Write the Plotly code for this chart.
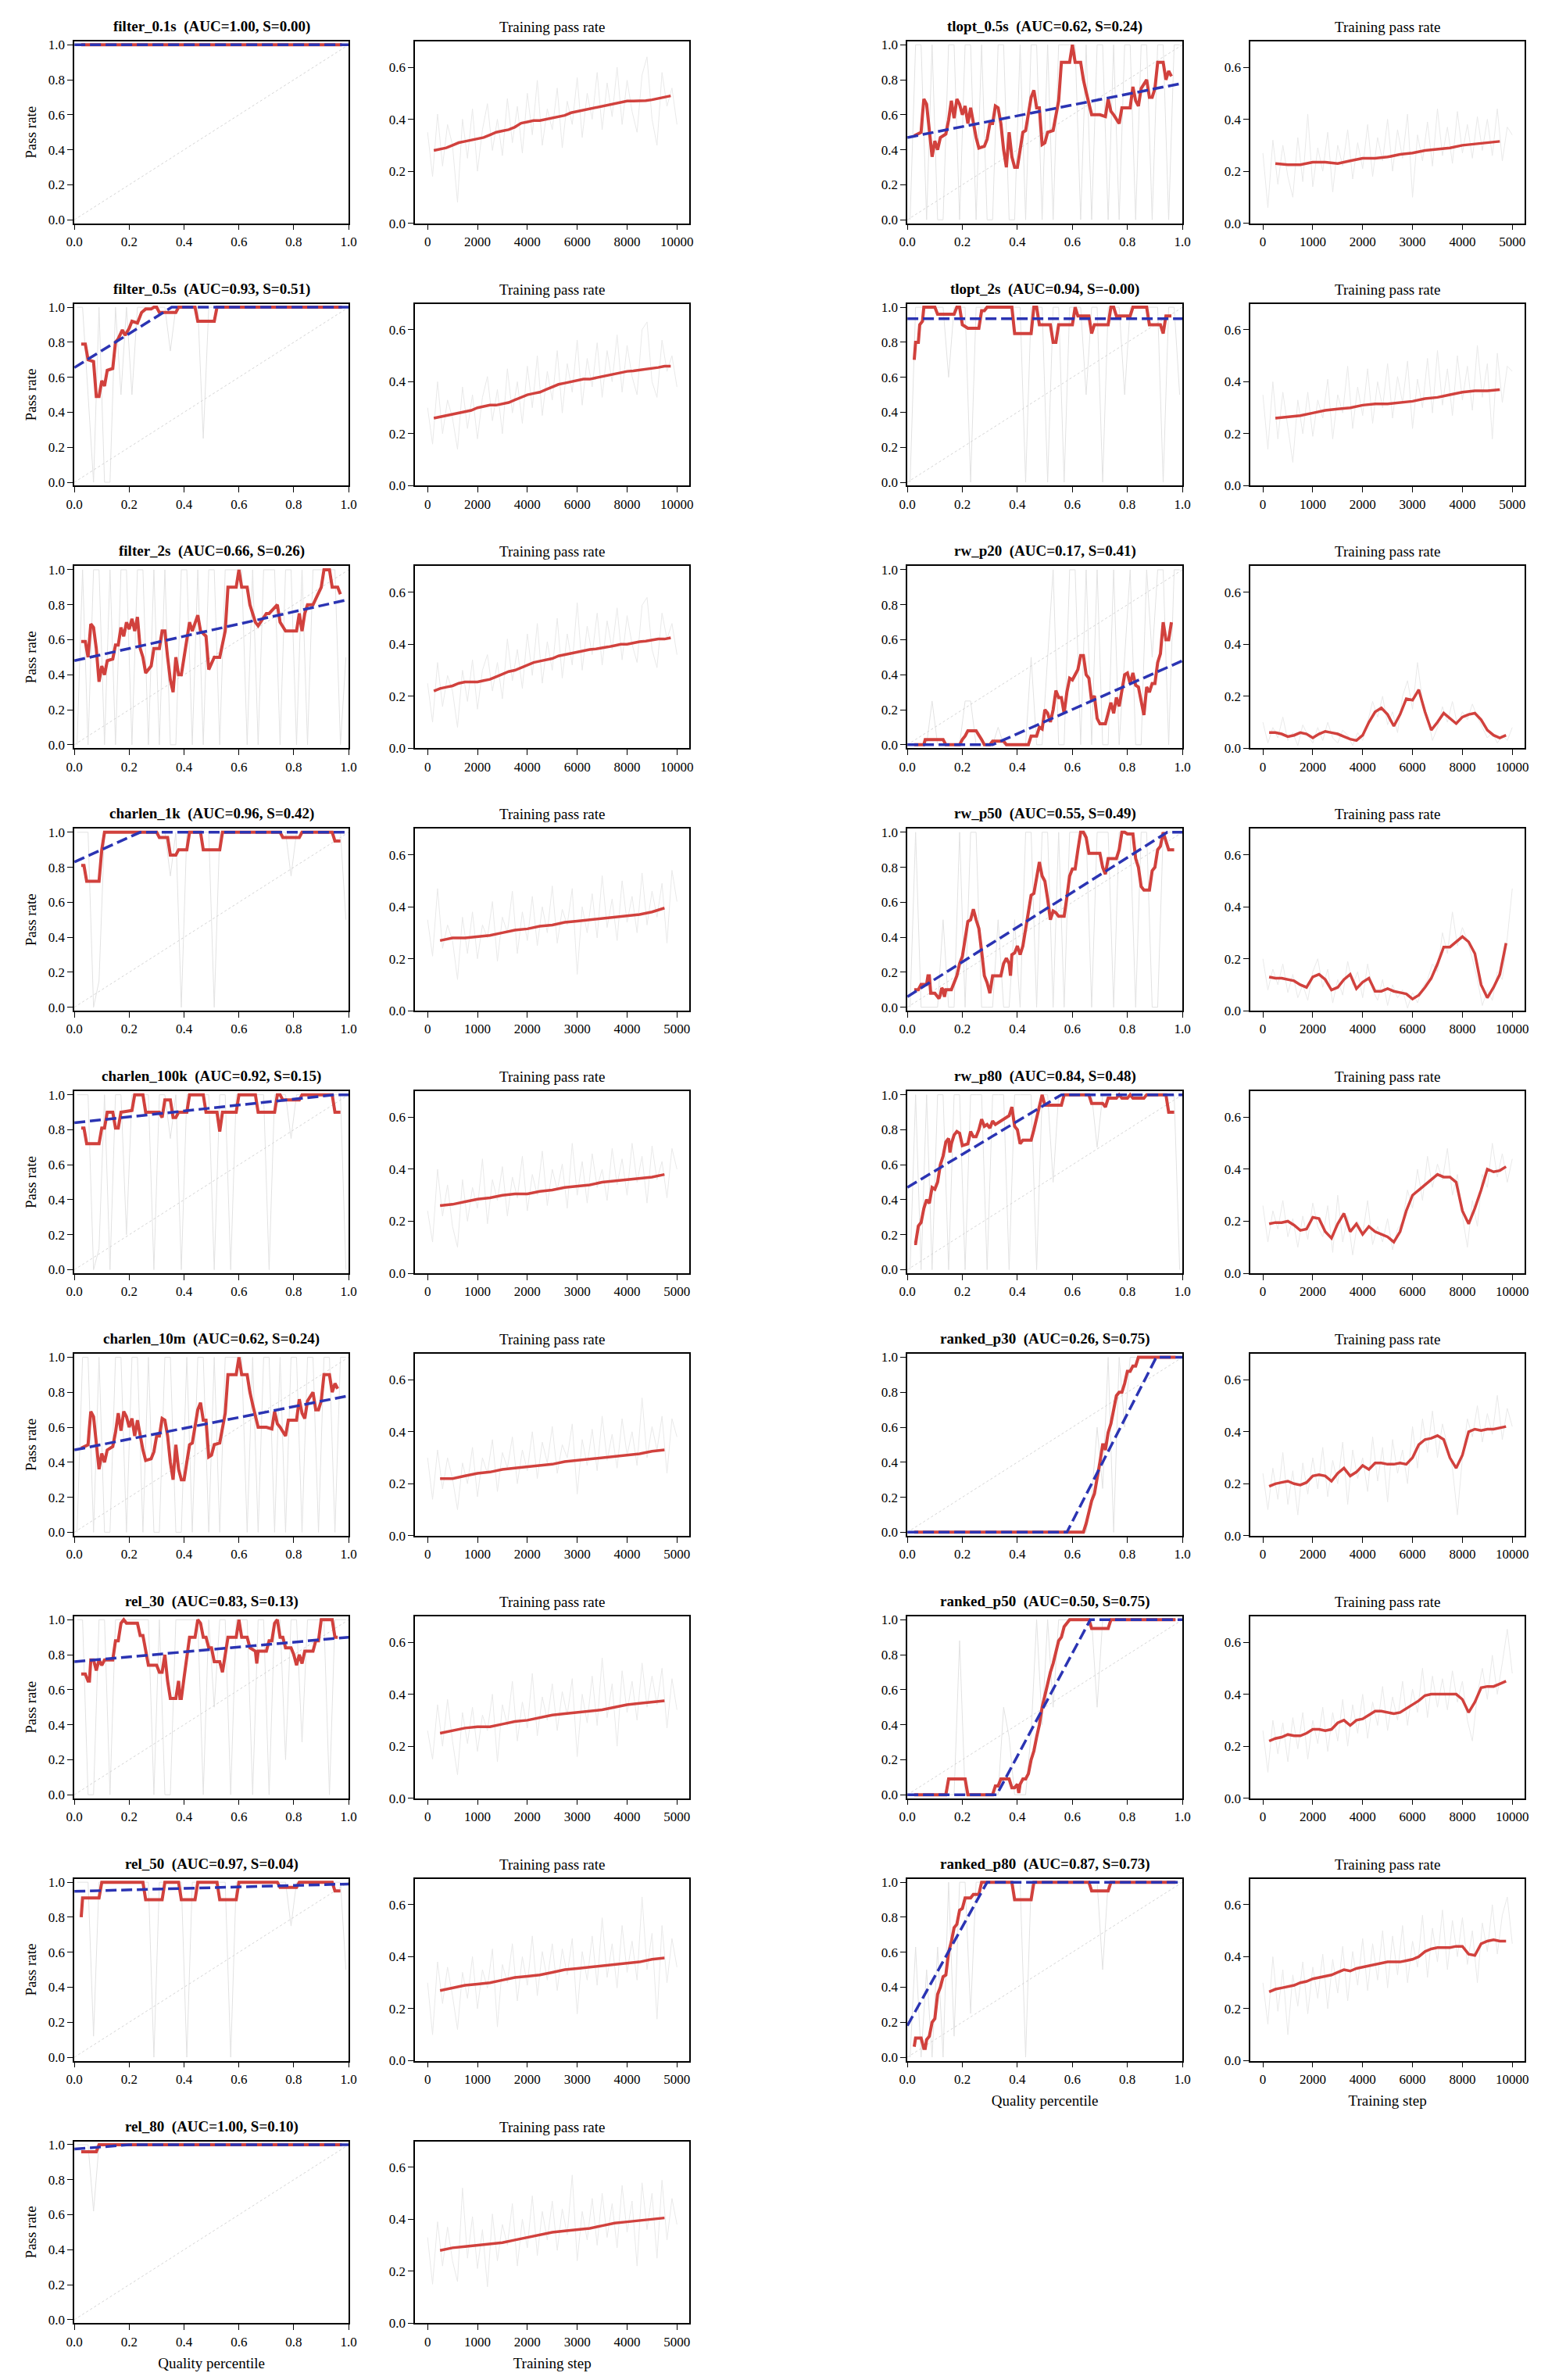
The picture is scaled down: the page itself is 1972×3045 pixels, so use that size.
import plotly.graph_objects as go

W, H = 1972, 3045
FONT = "Liberation Serif"
RED = "#d1413d"
BLUE = "#2b34b3"
RAW = "#e2e2e2"
DIAG = "#d4d4d4"

# shared x positions
Q_GRID = [round(0.01 + 0.02 * i, 2) for i in range(50)]   # quality percentile of raw samples
STEPS_10K = list(range(250, 10000, 250))                   # smoothed training curve, 10k runs
STEPS_5K = list(range(250, 5000, 250))                     # smoothed training curve, 5k runs
RAW_10K = list(range(0, 10001, 200))
RAW_5K = list(range(0, 5001, 100))
DIAG_XY = [0.0, 1.0]

# ---------------- filter_0.1s ----------------
filter_01s_q = [(0.025, 1.0), (0.975, 1.0)]
filter_01s_fit = [(0.0, 1.0), (1.0, 1.0)]
filter_01s_raw = [1, 1, 1, 1, 1, 1, 1, 1, 1, 1,
                  1, 1, 1, 1, 1, 1, 1, 1, 1, 1,
                  1, 1, 1, 1, 1, 1, 1, 1, 1, 1,
                  1, 1, 1, 1, 1, 1, 1, 1, 1, 1,
                  1, 1, 1, 1, 1, 1, 1, 1, 1, 1]
filter_01s_tr = [.28, .285, .29, .30, .31, .315, .32, .325, .33, .34,
                 .35, .355, .36, .37, .385, .39, .395, .395, .40, .405,
                 .41, .415, .425, .43, .435, .44, .445, .45, .455, .46,
                 .465, .47, .47, .47, .472, .475, .48, .485, .49]
filter_01s_tr_raw = [.35, .18, .42, .22, .38, .30, .08, .40, .25, .44,
                     .20, .36, .46, .28, .40, .26, .48, .31, .45, .27,
                     .50, .34, .55, .30, .44, .36, .52, .29, .47, .38,
                     .56, .33, .50, .40, .58, .36, .54, .41, .60, .38,
                     .55, .43, .35, .57, .64, .40, .30, .58, .45, .52, .38]

# ---------------- filter_0.5s ----------------
filter_05s_q = [(0.025, .79), (0.04, .79), (0.05, .70), (0.07, .69), (0.08, .49), (0.09, .49),
                (0.10, .58), (0.11, .55), (0.12, .64), (0.14, .65), (0.15, .80), (0.16, .82),
                (0.175, .87), (0.185, .84), (0.20, .88), (0.21, .92), (0.23, .91), (0.245, .97),
                (0.26, .99), (0.28, .99), (0.29, 1.0), (0.30, 1.0), (0.31, .97), (0.37, .97),
                (0.38, 1.0), (0.44, 1.0), (0.45, .92), (0.51, .92), (0.52, 1.0), (0.975, 1.0)]
filter_05s_fit = [(0.0, .655), (0.355, 1.0), (1.0, 1.0)]
filter_05s_raw = [1, 1, .5, 0, 1, 0, 0, 1, .5, 1,
                  .5, 1, 1, 1, 1, 1, 1, .75, 1, 1,
                  1, 1, 1, .25, 1, 1, 1, 1, 1, 1,
                  1, 1, 1, 1, 1, 1, 1, 1, 1, 1,
                  1, 1, 1, 1, 1, 1, 1, 1, 1, 1]
filter_05s_tr = [.26, .265, .27, .275, .28, .285, .29, .30, .305, .31,
                 .31, .315, .32, .33, .34, .35, .355, .36, .37, .38,
                 .39, .395, .40, .405, .41, .41, .415, .42, .425, .43,
                 .435, .44, .442, .445, .447, .45, .455, .46, .46]
filter_05s_tr_raw = [.30, .16, .40, .20, .33, .26, .14, .38, .22, .35,
                     .18, .34, .42, .25, .37, .20, .45, .28, .40, .24,
                     .46, .30, .50, .27, .44, .33, .52, .28, .47, .36,
                     .56, .31, .49, .38, .55, .34, .52, .40, .58, .36,
                     .54, .42, .35, .60, .63, .40, .34, .56, .44, .50, .38]

# ---------------- filter_2s ----------------
filter_2s_q = [(0.025, .59), (0.04, .59), (0.05, .50), (0.06, .69), (0.07, .67), (0.08, .55),
               (0.09, .36), (0.10, .45), (0.11, .40), (0.12, .48), (0.14, .49), (0.15, .57),
               (0.16, .57), (0.17, .67), (0.18, .62), (0.19, .70), (0.20, .66), (0.21, .72),
               (0.22, .65), (0.23, .73), (0.24, .55), (0.25, .50), (0.26, .41), (0.27, .43),
               (0.28, .45), (0.29, .55), (0.31, .55), (0.32, .65), (0.33, .65), (0.34, .50),
               (0.35, .37), (0.36, .30), (0.37, .50), (0.38, .40), (0.39, .40), (0.40, .50),
               (0.41, .60), (0.42, .70), (0.43, .65), (0.45, .74), (0.46, .65), (0.48, .62),
               (0.49, .43), (0.51, .50), (0.53, .50), (0.55, .65), (0.56, .90), (0.59, .90),
               (0.60, 1.0), (0.61, .90), (0.63, .90), (0.64, .80), (0.65, .75), (0.66, .70),
               (0.67, .68), (0.70, .75), (0.71, .75), (0.74, .80), (0.75, .70), (0.77, .65),
               (0.81, .65), (0.82, .75), (0.83, .65), (0.84, .75), (0.85, .80), (0.87, .80),
               (0.90, .90), (0.91, 1.0), (0.93, 1.0), (0.94, .90), (0.96, .90), (0.97, .86)]
filter_2s_fit = [(0.0, .48), (1.0, .83)]
filter_2s_raw = [0, 1, 0, 1, 1, 0, 1, 0, 1, 1,
                 0, 1, 1, 0, 1, 0, 1, 0, 0, 1,
                 1, 0, 1, 0, 1, 1, 0, 1, 1, 1,
                 1, 0, 1, 0, 1, 1, 1, 0, 1, 1,
                 0, 1, 0, 1, 1, 1, 1, 1, 0, .5]
filter_2s_tr = [.22, .23, .235, .24, .25, .255, .255, .255, .26, .265,
                .275, .285, .295, .30, .31, .32, .33, .335, .34, .345,
                .355, .36, .365, .37, .375, .38, .382, .385, .39, .395,
                .40, .40, .405, .41, .412, .415, .42, .42, .425]
filter_2s_tr_raw = [.25, .10, .33, .16, .28, .22, .08, .30, .18, .34,
                    .15, .30, .36, .22, .33, .19, .42, .26, .38, .23,
                    .44, .28, .48, .25, .41, .30, .50, .27, .44, .32,
                    .56, .30, .47, .36, .52, .32, .49, .38, .54, .34,
                    .51, .40, .33, .55, .58, .38, .31, .52, .42, .48, .36]

# ---------------- charlen_1k ----------------
charlen_1k_q = [(0.025, .81), (0.035, .81), (0.045, .72), (0.09, .72), (0.10, .90), (0.11, 1.0),
                (0.30, 1.0), (0.31, .97), (0.34, .97), (0.35, .87), (0.37, .87), (0.38, .90),
                (0.41, .90), (0.42, 1.0), (0.46, 1.0), (0.47, .90), (0.53, .90), (0.54, 1.0),
                (0.75, 1.0), (0.76, .97), (0.82, .97), (0.83, 1.0), (0.94, 1.0), (0.95, .95),
                (0.97, .95)]
charlen_1k_fit = [(0.0, .83), (0.24, 1.0), (1.0, 1.0)]
charlen_1k_raw = [1, 1, 1, 0, .15, 1, 1, 1, 1, 1,
                  1, 1, 1, 1, 1, 1, 1, .75, 1, 0,
                  1, 1, 1, 1, 1, 0, 1, 1, 1, 1,
                  1, 1, 1, 1, 1, 1, 1, 1, 1, .75,
                  1, 1, 1, 1, 1, 1, 1, 1, 1, .5]
charlen_1k_tr = [.27, .28, .28, .285, .29, .30, .31, .315, .325, .33,
                 .34, .345, .35, .355, .36, .365, .37, .38, .395]
charlen_1k_tr_raw = [.35, .21, .47, .24, .33, .27, .12, .36, .22, .38,
                     .20, .33, .28, .42, .19, .36, .30, .46, .22, .38,
                     .27, .44, .25, .40, .30, .48, .26, .39, .33, .47,
                     .14, .40, .30, .45, .28, .52, .32, .43, .27, .50,
                     .34, .44, .30, .53, .33, .46, .36, .49, .26, .54, .42]

# ---------------- charlen_100k ----------------
charlen_100k_q = [(0.025, .81), (0.035, .81), (0.045, .72), (0.09, .72), (0.10, .81), (0.11, .81),
                  (0.12, .90), (0.14, .90), (0.15, .81), (0.16, .81), (0.17, .90), (0.20, .91),
                  (0.21, .91), (0.22, 1.0), (0.25, 1.0), (0.26, .90), (0.31, .90), (0.32, .87),
                  (0.33, .97), (0.35, .97), (0.36, .87), (0.37, .87), (0.38, .90), (0.41, .90),
                  (0.42, 1.0), (0.47, 1.0), (0.48, .90), (0.52, .90), (0.53, .79), (0.54, .90),
                  (0.59, .90), (0.60, 1.0), (0.66, 1.0), (0.67, .90), (0.73, .90), (0.74, 1.0),
                  (0.75, 1.0), (0.76, .97), (0.82, .97), (0.83, 1.0), (0.94, 1.0), (0.95, .90),
                  (0.97, .90)]
charlen_100k_fit = [(0.0, .84), (0.95, 1.0), (1.0, 1.0)]
charlen_100k_raw = [1, 1, 1, 0, .12, 1, 0, 1, 1, .2,
                    1, 1, 1, 1, 0, 1, 1, .75, 1, 0,
                    1, 1, 1, 1, 1, 0, 1, 1, 0, 1,
                    1, 1, 1, 1, 1, 0, 1, 1, 1, .75,
                    1, 1, 1, 1, 1, 1, 1, 1, 1, 0]
charlen_100k_tr = [.26, .265, .275, .285, .29, .30, .305, .305, .315, .32,
                   .33, .335, .34, .35, .355, .36, .365, .37, .38]
charlen_100k_tr_raw = [.24, .12, .40, .22, .34, .18, .10, .36, .20, .33,
                       .25, .44, .19, .36, .28, .41, .22, .37, .29, .45,
                       .24, .38, .30, .47, .26, .40, .32, .42, .25, .50,
                       .30, .43, .27, .46, .33, .40, .28, .48, .34, .44,
                       .30, .50, .35, .45, .27, .49, .36, .43, .29, .48, .40]

# ---------------- tlopt_0.5s (charlen_10m shows the same curve) ----------------
tlopt_05s_q = [(0.025, .48), (0.04, .49), (0.05, .50), (0.055, .60), (0.06, .69), (0.07, .66),
               (0.08, .50), (0.09, .36), (0.10, .45), (0.11, .40), (0.12, .47), (0.14, .49),
               (0.15, .57), (0.16, .68), (0.17, .58), (0.18, .69), (0.19, .66), (0.20, .60),
               (0.21, .65), (0.22, .55), (0.23, .64), (0.24, .55), (0.25, .47), (0.26, .41),
               (0.28, .42), (0.29, .46), (0.30, .55), (0.31, .55), (0.32, .65), (0.33, .64),
               (0.34, .55), (0.35, .40), (0.36, .30), (0.37, .50), (0.38, .36), (0.39, .30),
               (0.40, .30), (0.41, .40), (0.42, .50), (0.43, .51), (0.44, .60), (0.45, .70),
               (0.46, .74), (0.47, .64), (0.48, .64), (0.49, .43), (0.50, .44), (0.51, .50),
               (0.53, .51), (0.55, .68), (0.56, .90), (0.59, .90), (0.60, 1.0), (0.61, .90),
               (0.63, .90), (0.64, .80), (0.65, .73), (0.66, .66), (0.67, .60), (0.70, .60),
               (0.72, .59), (0.73, .69), (0.74, .62), (0.75, .60), (0.77, .55), (0.78, .64),
               (0.81, .64), (0.82, .76), (0.83, .68), (0.84, .65), (0.85, .75), (0.87, .80),
               (0.88, .70), (0.89, .70), (0.90, .75), (0.91, .90), (0.93, .90), (0.94, .80),
               (0.95, .85), (0.96, .82)]
tlopt_05s_fit = [(0.0, .47), (1.0, .78)]
tlopt_05s_raw = [0, 1, 1, 0, 1, 0, 0, 1, 1, 0,
                 1, 1, 0, 1, 0, 0, 1, 1, 0, 0,
                 1, 0, 1, 1, 0, 1, 0, 1, 1, 1,
                 1, 0, 1, 0, 1, 1, 0, 1, 0, 1,
                 1, 0, 1, 1, 0, 1, 1, 0, 1, 1]
tlopt_05s_tr = [.23, .225, .225, .235, .235, .23, .24, .25, .25, .255,
                .265, .27, .28, .285, .29, .30, .305, .31, .315]
tlopt_05s_tr_raw = [.27, .06, .32, .15, .30, .18, .10, .33, .16, .42,
                    .14, .29, .20, .35, .12, .30, .22, .36, .17, .31,
                    .21, .38, .18, .33, .24, .40, .20, .36, .25, .42,
                    .10, .34, .24, .39, .22, .44, .26, .37, .23, .43,
                    .27, .38, .25, .41, .28, .40, .26, .44, .24, .37, .34]

# ---------------- charlen_10m ----------------
charlen_10m_q = list(tlopt_05s_q)
charlen_10m_fit = [(0.0, .47), (1.0, .78)]
charlen_10m_raw = list(tlopt_05s_raw)
charlen_10m_tr = [.22, .22, .23, .24, .245, .255, .26, .265, .27, .275,
                  .285, .29, .295, .30, .305, .31, .315, .325, .33]
charlen_10m_tr_raw = [.30, .14, .33, .18, .30, .22, .10, .28, .20, .34,
                      .15, .30, .24, .37, .17, .32, .26, .38, .20, .33,
                      .25, .40, .22, .36, .28, .42, .24, .35, .30, .43,
                      .16, .37, .27, .41, .25, .46, .29, .39, .26, .45,
                      .31, .40, .27, .53, .30, .42, .33, .46, .24, .45, .38]

# ---------------- rel_30 ----------------
rel_30_q = [(0.025, .69), (0.04, .69), (0.05, .65), (0.055, .65), (0.06, .77), (0.07, .77),
            (0.08, .71), (0.09, .77), (0.10, .74), (0.11, .77), (0.14, .77), (0.15, .88),
            (0.16, .88), (0.17, .98), (0.18, 1.0), (0.19, .98), (0.23, .98), (0.24, .91),
            (0.25, .91), (0.26, .82), (0.27, .74), (0.30, .74), (0.31, .70), (0.32, .70),
            (0.33, .80), (0.34, .65), (0.35, .55), (0.37, .55), (0.38, .65), (0.385, .55),
            (0.39, .55), (0.40, .67), (0.41, .80), (0.42, .90), (0.44, .90), (0.45, 1.0),
            (0.46, .98), (0.47, .90), (0.48, .90), (0.49, .84), (0.50, .84), (0.51, .76),
            (0.53, .76), (0.54, .70), (0.55, .80), (0.56, .90), (0.59, .90), (0.60, 1.0),
            (0.61, .90), (0.63, .90), (0.64, .84), (0.66, .82), (0.665, .75), (0.67, .82),
            (0.70, .82), (0.71, .88), (0.72, .88), (0.73, .98), (0.74, 1.0), (0.75, .90),
            (0.76, .90), (0.77, .84), (0.79, .84), (0.80, .80), (0.81, .74), (0.82, .80),
            (0.83, .75), (0.84, .82), (0.87, .82), (0.88, .88), (0.89, .88), (0.90, 1.0),
            (0.94, 1.0), (0.95, .90), (0.96, .90)]
rel_30_fit = [(0.0, .76), (1.0, .90)]
rel_30_raw = [1, 1, 0, 0, 1, 1, 0, 1, 1, 1,
              1, 1, 1, 1, 0, 1, 0, 0, 1, 1,
              1, 1, 1, 0, 1, .5, 1, 1, 0, 1,
              1, 1, 0, 1, 1, 0, 1, 1, .2, 1,
              1, .3, 1, 1, 1, 1, 0, 1, 1, 1]
rel_30_tr = [.25, .26, .27, .275, .275, .285, .295, .30, .31, .32,
             .325, .33, .335, .34, .35, .36, .365, .37, .375]
rel_30_tr_raw = [.26, .15, .36, .20, .38, .22, .09, .33, .21, .35,
                 .18, .32, .26, .40, .14, .36, .28, .45, .22, .37,
                 .27, .48, .24, .39, .30, .44, .26, .41, .32, .46,
                 .16, .40, .29, .47, .28, .54, .31, .44, .20, .49,
                 .33, .45, .30, .52, .35, .47, .36, .50, .27, .46, .34]

# ---------------- rel_50 ----------------
rel_50_q = [(0.025, .80), (0.03, .91), (0.09, .91), (0.10, 1.0), (0.25, 1.0), (0.26, .90),
            (0.32, .90), (0.33, 1.0), (0.38, 1.0), (0.39, .90), (0.44, .90), (0.45, 1.0),
            (0.52, 1.0), (0.53, .90), (0.59, .90), (0.60, 1.0), (0.74, 1.0), (0.75, .97),
            (0.81, .97), (0.82, 1.0), (0.94, 1.0), (0.95, .95), (0.97, .95)]
rel_50_fit = [(0.0, .948), (1.0, .99)]
rel_50_raw = [1, 1, 1, .12, 1, 1, 1, 1, 1, 1,
              1, 1, 1, 1, 0, 1, 1, 1, 1, 1,
              0, 1, 1, 1, 1, 1, 1, 1, 0, 1,
              1, 1, 1, 1, 1, 1, 1, 1, 1, .75,
              1, 1, 1, 1, 1, 1, 1, 1, 1, .5]
rel_50_tr = [.27, .28, .29, .295, .30, .31, .32, .325, .33, .34,
             .35, .355, .36, .365, .37, .375, .38, .39, .395]
rel_50_tr_raw = [.30, .10, .38, .22, .36, .25, .12, .34, .24, .40,
                 .20, .35, .28, .43, .13, .37, .30, .45, .23, .40,
                 .29, .48, .25, .42, .31, .45, .27, .43, .33, .47,
                 .18, .42, .31, .48, .29, .55, .32, .45, .28, .52,
                 .34, .46, .31, .63, .35, .49, .16, .52, .30, .47, .36]

# ---------------- rel_80 ----------------
rel_80_q = [(0.025, .96), (0.08, .96), (0.09, 1.0), (0.975, 1.0)]
rel_80_fit = [(0.0, .975), (0.2, 1.0), (1.0, 1.0)]
rel_80_raw = [1, 1, 1, .62, 1, 1, 1, 1, 1, 1,
              1, 1, 1, 1, 1, 1, 1, 1, 1, 1,
              1, 1, 1, 1, 1, 1, 1, 1, 1, 1,
              1, 1, 1, 1, 1, 1, 1, 1, 1, 1,
              1, 1, 1, 1, 1, 1, 1, 1, 1, 1]
rel_80_tr = [.28, .29, .295, .30, .305, .31, .32, .33, .34, .35,
             .355, .36, .365, .375, .385, .39, .395, .40, .405]
rel_80_tr_raw = [.33, .15, .39, .22, .37, .24, .16, .52, .25, .41,
                 .21, .36, .14, .42, .24, .38, .30, .46, .22, .40,
                 .29, .49, .26, .43, .32, .47, .28, .44, .34, .57,
                 .24, .43, .32, .48, .30, .50, .33, .46, .29, .53,
                 .35, .47, .22, .54, .36, .50, .25, .55, .32, .48, .38]

# ---------------- tlopt_2s ----------------
tlopt_2s_q = [(0.025, .70), (0.03, .80), (0.04, .80), (0.045, .90), (0.055, .92), (0.06, 1.0),
              (0.10, 1.0), (0.11, .96), (0.17, .96), (0.18, 1.0), (0.19, 1.0), (0.20, .90),
              (0.22, .88), (0.26, .88), (0.27, .98), (0.28, .98), (0.29, 1.0), (0.38, 1.0),
              (0.39, .85), (0.45, .85), (0.46, 1.0), (0.47, 1.0), (0.48, .90), (0.52, .90),
              (0.53, .80), (0.54, .80), (0.55, .90), (0.60, .90), (0.61, 1.0), (0.62, .95),
              (0.66, .95), (0.67, .85), (0.68, .90), (0.73, .90), (0.74, 1.0), (0.75, 1.0),
              (0.76, .95), (0.81, .95), (0.82, 1.0), (0.87, 1.0), (0.88, .90), (0.92, .90),
              (0.93, .85), (0.94, .95), (0.96, .95)]
tlopt_2s_fit = [(0.0, .935), (1.0, .935)]
tlopt_2s_raw = [0, 1, 1, 1, 1, 1, 1, .6, 1, 1,
                1, 0, 1, 1, 1, 1, 1, 1, 1, 1,
                1, 0, 1, 1, 1, 0, 1, 1, 0, 1,
                1, 1, .5, 1, 1, 0, 1, 1, 1, .5,
                1, 1, 1, 1, 1, 1, 0, 1, 1, .5]
tlopt_2s_tr = [.26, .265, .27, .28, .29, .295, .30, .31, .315, .315,
               .32, .325, .335, .34, .35, .36, .365, .365, .37]
tlopt_2s_tr_raw = [.35, .14, .40, .18, .36, .22, .09, .33, .20, .36,
                   .19, .33, .26, .41, .18, .35, .28, .46, .22, .38,
                   .27, .45, .24, .40, .30, .47, .26, .42, .32, .48,
                   .22, .41, .30, .49, .28, .52, .31, .45, .27, .50,
                   .33, .46, .29, .54, .34, .47, .18, .51, .32, .46, .44]

# ---------------- rw_p20 ----------------
rw_p20_q = [(0.025, 0.0), (0.06, 0.0), (0.065, .03), (0.13, .03), (0.14, 0.0), (0.19, 0.0),
            (0.20, .03), (0.21, .05), (0.22, .08), (0.25, .08), (0.27, .03), (0.28, 0.0),
            (0.30, 0.0), (0.31, .02), (0.35, .02), (0.36, 0.0), (0.44, 0.0), (0.45, .05),
            (0.47, .05), (0.48, .10), (0.49, .09), (0.50, .20), (0.51, .18), (0.52, .13),
            (0.53, .20), (0.54, .31), (0.55, .27), (0.56, .27), (0.57, .18), (0.58, .30),
            (0.59, .38), (0.60, .37), (0.61, .40), (0.62, .43), (0.63, .51), (0.64, .51),
            (0.65, .40), (0.66, .38), (0.67, .25), (0.68, .28), (0.69, .15), (0.70, .12),
            (0.72, .12), (0.73, .18), (0.74, .24), (0.75, .18), (0.76, .27), (0.77, .22),
            (0.78, .30), (0.79, .40), (0.80, .41), (0.81, .35), (0.82, .41), (0.83, .34),
            (0.84, .33), (0.85, .25), (0.86, .17), (0.87, .33), (0.88, .30), (0.89, .35),
            (0.90, .35), (0.91, .47), (0.92, .52), (0.93, .70), (0.94, .60), (0.95, .60),
            (0.96, .70)]
rw_p20_fit = [(0.0, 0.0), (0.31, 0.0), (1.0, .48)]
rw_p20_raw = [0, 0, 0, 0, .25, 0, 0, 0, 0, 0,
              .25, .25, 0, 0, 0, 0, .1, 0, 0, 0,
              0, 0, .5, 0, 0, .5, 1, 0, 0, 1,
              1, 0, 1, 0, 1, 0, 0, 1, 0, .5,
              1, 0, 0, 1, .5, 1, 1, 0, 1, 1]
rw_p20_tr = [.06, .06, .055, .045, .05, .06, .055, .04, .055, .065,
             .06, .055, .045, .035, .03, .05, .10, .14, .155, .13,
             .085, .13, .19, .185, .225, .14, .07, .10, .135, .115,
             .095, .12, .13, .135, .11, .07, .05, .04, .05]
rw_p20_tr_raw = [.10, .02, .08, .04, .12, .03, .06, .01, .09, .05,
                 .02, .08, .03, .10, .04, .02, .07, .05, .01, .06,
                 .03, .10, .18, .12, .20, .09, .14, .06, .20, .26,
                 .15, .33, .18, .12, .03, .08, .16, .10, .18, .09,
                 .14, .11, .17, .12, .08, .04, .06, .02, .05, .03, .08]

# ---------------- rw_p50 ----------------
rw_p50_q = [(0.025, .10), (0.04, .10), (0.05, .13), (0.07, .13), (0.075, .18), (0.08, .18),
            (0.085, .08), (0.10, .08), (0.11, .06), (0.115, .05), (0.12, .07), (0.125, .11),
            (0.13, .10), (0.135, .06), (0.14, .10), (0.16, .10), (0.18, .18), (0.19, .25),
            (0.20, .29), (0.21, .38), (0.22, .49), (0.23, .50), (0.24, .56), (0.25, .50),
            (0.26, .45), (0.27, .32), (0.28, .18), (0.29, .14), (0.30, .08), (0.31, .18),
            (0.34, .18), (0.35, .25), (0.36, .28), (0.37, .25), (0.375, .18), (0.38, .30),
            (0.39, .31), (0.40, .35), (0.41, .30), (0.42, .35), (0.43, .44), (0.44, .55),
            (0.45, .64), (0.46, .65), (0.47, .74), (0.48, .83), (0.49, .75), (0.50, .72),
            (0.51, .62), (0.52, .50), (0.53, .55), (0.54, .54), (0.55, .52), (0.57, .52),
            (0.58, .63), (0.59, .75), (0.60, .79), (0.61, .79), (0.62, .90), (0.63, 1.0),
            (0.64, 1.0), (0.65, .97), (0.66, .88), (0.70, .88), (0.71, .80), (0.72, .76),
            (0.73, .85), (0.76, .85), (0.77, .90), (0.78, 1.0), (0.79, 1.0), (0.80, .99),
            (0.82, .99), (0.83, .85), (0.84, .80), (0.85, .69), (0.86, .67), (0.88, .67),
            (0.89, .78), (0.90, .80), (0.91, .90), (0.92, .92), (0.93, 1.0), (0.95, .90),
            (0.97, .90)]
rw_p50_fit = [(0.0, .06), (0.945, 1.0), (1.0, 1.0)]
rw_p50_raw = [0, 1, 0, 0, 0, 0, .5, 0, 0, 1,
              0, 1, 1, 0, 0, 0, .5, 0, 0, .5,
              0, 1, 1, 0, 1, 1, 0, 1, 0, 1,
              1, 1, 1, 0, 1, 1, 1, 0, 1, 1,
              1, 0, 1, 1, 0, 0, 1, 1, 1, 1]
rw_p50_tr = [.13, .125, .125, .12, .115, .10, .09, .13, .14, .12,
             .08, .09, .12, .14, .085, .11, .125, .075, .075, .085,
             .075, .07, .065, .045, .06, .09, .125, .18, .245, .245,
             .265, .285, .265, .22, .10, .05, .09, .14, .26]
rw_p50_tr_raw = [.20, .08, .16, .10, .18, .07, .14, .05, .10, .04,
                 .15, .20, .09, .16, .03, .12, .06, .19, .10, .15,
                 .05, .18, .08, .04, .12, .02, .10, .05, .08, .01,
                 .07, .03, .09, .12, .18, .15, .30, .22, .38, .25,
                 .32, .27, .20, .12, .02, .08, .04, .15, .12, .28, .47]

# ---------------- rw_p80 ----------------
rw_p80_q = [(0.025, .15), (0.03, .15), (0.04, .25), (0.05, .27), (0.06, .35), (0.07, .40),
            (0.08, .38), (0.09, .47), (0.10, .46), (0.11, .50), (0.12, .60), (0.13, .65),
            (0.14, .73), (0.15, .75), (0.155, .67), (0.16, .72), (0.17, .77), (0.18, .79),
            (0.19, .78), (0.20, .71), (0.22, .72), (0.23, .79), (0.24, .76), (0.25, .76),
            (0.26, .80), (0.27, .86), (0.28, .82), (0.29, .83), (0.30, .81), (0.31, .85),
            (0.32, .83), (0.33, .84), (0.35, .86), (0.37, .88), (0.38, .93), (0.39, .82),
            (0.40, .80), (0.41, .72), (0.42, .74), (0.45, .74), (0.46, .80), (0.47, .87),
            (0.48, .94), (0.49, 1.0), (0.50, .94), (0.56, .94), (0.57, 1.0), (0.66, 1.0),
            (0.67, .95), (0.71, .95), (0.72, .93), (0.73, .98), (0.76, .98), (0.77, 1.0),
            (0.78, .98), (0.80, .98), (0.81, 1.0), (0.82, .98), (0.86, .98), (0.87, 1.0),
            (0.94, 1.0), (0.95, .90), (0.97, .90)]
rw_p80_fit = [(0.0, .47), (0.56, 1.0), (1.0, 1.0)]
rw_p80_raw = [0, 1, 0, 1, 0, 1, 1, 0, 1, 1,
              0, 1, 1, 1, 0, 1, 1, 1, 0, 1,
              1, 1, 1, 0, 1, 1, .5, 1, 1, 1,
              1, 1, 1, 1, .7, 1, 1, 1, 1, 1,
              1, 1, 1, 1, 1, 1, 1, 1, 1, 0]
rw_p80_tr = [.19, .195, .195, .20, .185, .165, .17, .215, .21, .16,
             .135, .19, .23, .16, .19, .15, .18, .16, .15, .14,
             .12, .16, .24, .30, .32, .34, .36, .38, .37, .37,
             .35, .24, .19, .25, .32, .40, .39, .395, .41]
rw_p80_tr_raw = [.26, .12, .24, .17, .28, .14, .21, .10, .22, .13,
                 .27, .18, .14, .26, .08, .30, .12, .22, .07, .20,
                 .15, .28, .11, .18, .12, .21, .09, .17, .20, .32,
                 .25, .40, .28, .45, .33, .42, .36, .48, .30, .38,
                 .22, .10, .28, .18, .38, .33, .50, .37, .46, .35, .44]

# ---------------- ranked_p30 ----------------
ranked_p30_q = [(0.025, 0.0), (0.64, 0.0), (0.65, .05), (0.66, .12), (0.67, .18), (0.68, .22),
                (0.69, .30), (0.70, .40), (0.71, .50), (0.715, .50), (0.72, .47), (0.73, .57),
                (0.74, .62), (0.75, .70), (0.76, .78), (0.77, .80), (0.78, .80), (0.79, .85),
                (0.80, .92), (0.81, .92), (0.82, .95), (0.83, .95), (0.84, 1.0), (0.975, 1.0)]
ranked_p30_fit = [(0.0, 0.0), (0.58, 0.0), (0.905, 1.0), (1.0, 1.0)]
ranked_p30_raw = [0, 0, 0, 0, 0, 0, 0, 0, 0, 0,
                  0, 0, 0, 0, 0, 0, 0, 0, 0, 0,
                  0, 0, 0, 0, 0, 0, 0, 0, 0, 0,
                  0, 0, 0, .2, .6, .25, 1, 0, 1, .6,
                  1, 1, 1, 1, 1, 1, 1, 1, 1, 1]
ranked_p30_tr = [.19, .20, .205, .21, .20, .195, .205, .23, .235, .23,
                 .21, .24, .26, .23, .245, .27, .255, .28, .28, .275,
                 .275, .28, .275, .30, .35, .37, .375, .385, .37, .30,
                 .26, .31, .40, .41, .405, .41, .41, .415, .42]
ranked_p30_tr_raw = [.24, .10, .26, .14, .32, .12, .25, .08, .28, .16,
                     .30, .18, .34, .15, .29, .20, .36, .12, .33, .22,
                     .30, .17, .38, .21, .34, .13, .37, .24, .33, .20,
                     .42, .26, .45, .32, .48, .30, .43, .34, .26, .08,
                     .30, .45, .38, .50, .36, .47, .39, .54, .37, .49, .42]

# ---------------- ranked_p50 ----------------
ranked_p50_q = [(0.025, 0.0), (0.14, 0.0), (0.15, .09), (0.21, .09), (0.22, 0.0), (0.31, 0.0),
                (0.32, .05), (0.33, .05), (0.34, .09), (0.37, .09), (0.38, .04), (0.39, .04),
                (0.40, .06), (0.405, .01), (0.41, .06), (0.42, .09), (0.43, .09), (0.44, .12),
                (0.45, .20), (0.46, .25), (0.47, .33), (0.48, .40), (0.49, .50), (0.50, .57),
                (0.51, .62), (0.52, .70), (0.53, .75), (0.54, .82), (0.55, .88), (0.56, .90),
                (0.57, .96), (0.58, .98), (0.59, 1.0), (0.66, 1.0), (0.67, .95), (0.73, .95),
                (0.74, 1.0), (0.975, 1.0)]
ranked_p50_fit = [(0.0, 0.0), (0.325, 0.0), (0.665, 1.0), (1.0, 1.0)]
ranked_p50_raw = [0, 0, 0, 0, 0, 0, 0, 0, 0, .88,
                  0, 0, 0, 0, 0, 0, 0, .5, .33, 0,
                  0, 0, .35, 1, .4, 1, .5, 1, 1, 1,
                  1, 1, 1, 1, .5, 1, 1, 1, 1, 1,
                  1, 1, 1, 1, 1, 1, 1, 1, 1, 1]
ranked_p50_tr = [.22, .23, .235, .245, .24, .24, .25, .265, .265, .26,
                 .265, .29, .30, .28, .30, .305, .32, .335, .335, .33,
                 .325, .33, .345, .36, .375, .395, .40, .40, .40, .40,
                 .40, .38, .33, .37, .425, .43, .43, .44, .45]
ranked_p50_tr_raw = [.26, .10, .30, .17, .29, .14, .31, .19, .33, .15,
                     .30, .21, .35, .18, .33, .22, .38, .20, .36, .25,
                     .40, .23, .37, .28, .43, .26, .39, .30, .45, .28,
                     .42, .33, .50, .31, .47, .35, .46, .34, .49, .37,
                     .45, .30, .22, .40, .50, .38, .55, .40, .52, .65, .48]

# ---------------- ranked_p80 ----------------
ranked_p80_q = [(0.025, .06), (0.03, .11), (0.05, .11), (0.06, .05), (0.065, .05), (0.07, .10),
                (0.08, .12), (0.09, .20), (0.10, .22), (0.11, .36), (0.12, .40), (0.13, .46),
                (0.14, .47), (0.15, .60), (0.16, .66), (0.17, .74), (0.18, .76), (0.19, .84),
                (0.20, .85), (0.21, .91), (0.23, .91), (0.24, .93), (0.26, .93), (0.27, 1.0),
                (0.38, 1.0), (0.39, .90), (0.45, .90), (0.46, 1.0), (0.66, 1.0), (0.67, .95),
                (0.73, .95), (0.74, 1.0), (0.975, 1.0)]
ranked_p80_fit = [(0.0, .18), (0.29, 1.0), (1.0, 1.0)]
ranked_p80_raw = [0, .63, 0, .5, 0, .63, 0, 1, .12, 1,
                  1, .25, 1, 1, 1, 1, 1, 1, 1, 1,
                  1, 0, 1, 1, 1, 1, 1, 1, 1, 1,
                  1, 1, 1, 1, 1, .5, 1, 1, 1, 1,
                  1, 1, 1, 1, 1, 1, 1, 1, 1, 1]
ranked_p80_tr = [.265, .275, .28, .285, .29, .30, .305, .315, .32, .325,
                 .33, .34, .35, .345, .355, .36, .365, .37, .375, .38,
                 .38, .38, .385, .39, .40, .42, .43, .435, .435, .435,
                 .44, .44, .41, .405, .45, .46, .465, .46, .46]
ranked_p80_tr_raw = [.30, .14, .40, .19, .35, .10, .33, .21, .38, .18,
                     .36, .24, .41, .20, .39, .26, .44, .23, .42, .29,
                     .47, .27, .45, .31, .50, .28, .48, .33, .52, .30,
                     .46, .36, .56, .32, .51, .38, .58, .35, .54, .40,
                     .55, .37, .50, .30, .53, .42, .60, .41, .56, .63, .45]

# name, AUC, S, grid row, side (0 left pair / 1 right pair), run length, curves
PANELS = [
    ("filter_0.1s", 1.00, 0.00, 0, 0, 10000, filter_01s_q, filter_01s_fit, filter_01s_raw, filter_01s_tr, filter_01s_tr_raw),
    ("filter_0.5s", 0.93, 0.51, 1, 0, 10000, filter_05s_q, filter_05s_fit, filter_05s_raw, filter_05s_tr, filter_05s_tr_raw),
    ("filter_2s", 0.66, 0.26, 2, 0, 10000, filter_2s_q, filter_2s_fit, filter_2s_raw, filter_2s_tr, filter_2s_tr_raw),
    ("charlen_1k", 0.96, 0.42, 3, 0, 5000, charlen_1k_q, charlen_1k_fit, charlen_1k_raw, charlen_1k_tr, charlen_1k_tr_raw),
    ("charlen_100k", 0.92, 0.15, 4, 0, 5000, charlen_100k_q, charlen_100k_fit, charlen_100k_raw, charlen_100k_tr, charlen_100k_tr_raw),
    ("charlen_10m", 0.62, 0.24, 5, 0, 5000, charlen_10m_q, charlen_10m_fit, charlen_10m_raw, charlen_10m_tr, charlen_10m_tr_raw),
    ("rel_30", 0.83, 0.13, 6, 0, 5000, rel_30_q, rel_30_fit, rel_30_raw, rel_30_tr, rel_30_tr_raw),
    ("rel_50", 0.97, 0.04, 7, 0, 5000, rel_50_q, rel_50_fit, rel_50_raw, rel_50_tr, rel_50_tr_raw),
    ("rel_80", 1.00, 0.10, 8, 0, 5000, rel_80_q, rel_80_fit, rel_80_raw, rel_80_tr, rel_80_tr_raw),
    ("tlopt_0.5s", 0.62, 0.24, 0, 1, 5000, tlopt_05s_q, tlopt_05s_fit, tlopt_05s_raw, tlopt_05s_tr, tlopt_05s_tr_raw),
    ("tlopt_2s", 0.94, -0.00, 1, 1, 5000, tlopt_2s_q, tlopt_2s_fit, tlopt_2s_raw, tlopt_2s_tr, tlopt_2s_tr_raw),
    ("rw_p20", 0.17, 0.41, 2, 1, 10000, rw_p20_q, rw_p20_fit, rw_p20_raw, rw_p20_tr, rw_p20_tr_raw),
    ("rw_p50", 0.55, 0.49, 3, 1, 10000, rw_p50_q, rw_p50_fit, rw_p50_raw, rw_p50_tr, rw_p50_tr_raw),
    ("rw_p80", 0.84, 0.48, 4, 1, 10000, rw_p80_q, rw_p80_fit, rw_p80_raw, rw_p80_tr, rw_p80_tr_raw),
    ("ranked_p30", 0.26, 0.75, 5, 1, 10000, ranked_p30_q, ranked_p30_fit, ranked_p30_raw, ranked_p30_tr, ranked_p30_tr_raw),
    ("ranked_p50", 0.50, 0.75, 6, 1, 10000, ranked_p50_q, ranked_p50_fit, ranked_p50_raw, ranked_p50_tr, ranked_p50_tr_raw),
    ("ranked_p80", 0.87, 0.73, 7, 1, 10000, ranked_p80_q, ranked_p80_fit, ranked_p80_raw, ranked_p80_tr, ranked_p80_tr_raw),
]

# pixel boxes of the four columns (quality, training, quality, training)
COLS = [(77, 432), (518, 873), (1155, 1511), (1599, 1954)]
LAST_ROW = {0: 8, 1: 7}


def ydom(row):
    top = 40 + 337.5 * row
    bot = 274 + 337.5 * row
    return [1 - bot / H, 1 - top / H]


def xdom(col):
    return [COLS[col][0] / W, COLS[col][1] / W]


def base_axis(**kw):
    d = dict(showline=True, linecolor="black", linewidth=1.6, mirror=True,
             ticks="outside", ticklen=7, tickwidth=1.3, tickcolor="black",
             showgrid=False, zeroline=False,
             tickfont=dict(family=FONT, size=17, color="black"))
    d.update(kw)
    return d


def title_font():
    return dict(family=FONT, size=19, color="black")


fig = go.Figure()
layout = {}
annotations = []

for i, (name, auc, s, row, side, steps, q, fit, raw, tr, tr_raw) in enumerate(PANELS):
    qn, tn = 2 * i + 1, 2 * i + 2
    qx = "x" if qn == 1 else f"x{qn}"
    qy = "y" if qn == 1 else f"y{qn}"
    tx, ty = f"x{tn}", f"y{tn}"
    qcol, tcol = 2 * side, 2 * side + 1
    bottom = row == LAST_ROW[side]

    # quality panel
    fig.add_trace(go.Scatter(x=Q_GRID, y=raw, mode="lines",
                             line=dict(color=RAW, width=1), xaxis=qx, yaxis=qy))
    fig.add_trace(go.Scatter(x=DIAG_XY, y=DIAG_XY, mode="lines",
                             line=dict(color=DIAG, width=1, dash="dot"), xaxis=qx, yaxis=qy))
    fig.add_trace(go.Scatter(x=[p[0] for p in q], y=[p[1] for p in q], mode="lines",
                             line=dict(color=RED, width=4), xaxis=qx, yaxis=qy))
    fig.add_trace(go.Scatter(x=[p[0] for p in fit], y=[p[1] for p in fit], mode="lines",
                             line=dict(color=BLUE, width=3.5, dash="14px,6px"), xaxis=qx, yaxis=qy))

    # training panel
    raw_x = RAW_10K if steps == 10000 else RAW_5K
    smooth_x = STEPS_10K if steps == 10000 else STEPS_5K
    fig.add_trace(go.Scatter(x=raw_x, y=tr_raw, mode="lines",
                             line=dict(color="#e9e9e9", width=1), xaxis=tx, yaxis=ty))
    fig.add_trace(go.Scatter(x=smooth_x, y=tr, mode="lines",
                             line=dict(color=RED, width=3.5), xaxis=tx, yaxis=ty))

    qxa = base_axis(domain=xdom(qcol), anchor=qy, range=[0, 1],
                    tickvals=[0, 0.2, 0.4, 0.6, 0.8, 1.0], tickformat=".1f")
    qya = base_axis(domain=ydom(row), anchor=qx, range=[-0.02, 1.02],
                    tickvals=[0, 0.2, 0.4, 0.6, 0.8, 1.0], tickformat=".1f")
    txa = base_axis(domain=xdom(tcol), anchor=ty, range=[-steps * 0.05, steps * 1.05],
                    dtick=steps / 5, tick0=0, tickformat="d")
    tya = base_axis(domain=ydom(row), anchor=tx, range=[0, 0.7],
                    tickvals=[0, 0.2, 0.4, 0.6], tickformat=".1f")
    if side == 0:
        qya["title"] = dict(text="Pass rate", font=title_font(), standoff=10)
    if bottom:
        qxa["title"] = dict(text="Quality percentile", font=title_font(), standoff=12)
        txa["title"] = dict(text="Training step", font=title_font(), standoff=12)

    layout["xaxis" if qn == 1 else f"xaxis{qn}"] = qxa
    layout["yaxis" if qn == 1 else f"yaxis{qn}"] = qya
    layout[f"xaxis{tn}"] = txa
    layout[f"yaxis{tn}"] = tya

    top = ydom(row)[1]
    annotations.append(dict(
        text=f"<b>{name}&nbsp;&nbsp;(AUC={auc:.2f}, S={s:.2f})</b>",
        x=sum(xdom(qcol)) / 2, y=top, xref="paper", yref="paper",
        xanchor="center", yanchor="bottom", yshift=6, showarrow=False,
        font=title_font()))
    annotations.append(dict(
        text="Training pass rate",
        x=sum(xdom(tcol)) / 2, y=top, xref="paper", yref="paper",
        xanchor="center", yanchor="bottom", yshift=6, showarrow=False,
        font=title_font()))

fig.update_layout(
    width=W, height=H,
    margin=dict(l=0, r=0, t=0, b=0),
    paper_bgcolor="white", plot_bgcolor="white",
    showlegend=False,
    font=dict(family=FONT, color="black"),
    annotations=annotations,
    **layout,
)

fig.write_html("out.html")
